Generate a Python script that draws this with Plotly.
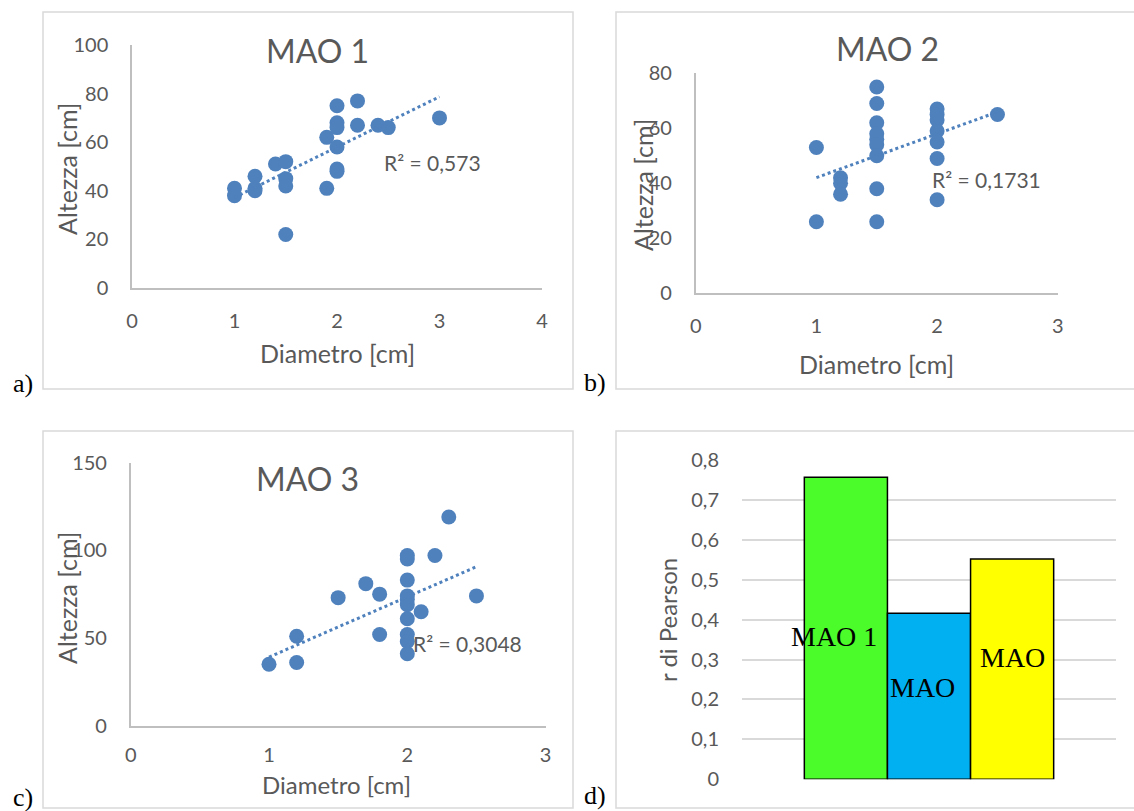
import numpy as np
import plotly.graph_objects as go

W, H = 1134, 811

# ---- data ----
mao1_diam = [1.0, 1.0, 1.2, 1.2, 1.2, 1.4, 1.5, 1.5, 1.5, 1.5, 1.9, 1.9, 2.0, 2.0, 2.0, 2.0, 2.0, 2.0, 2.2, 2.2, 2.4, 2.5, 3.0]
mao1_alt = [41, 38, 46, 41, 40, 51, 52, 45, 42, 22, 62, 41, 75, 68, 66, 58, 49, 48, 77, 67, 67, 66, 70]

mao2_diam = [1.0, 1.0, 1.2, 1.2, 1.2, 1.5, 1.5, 1.5, 1.5, 1.5, 1.5, 1.5, 1.5, 1.5, 2.0, 2.0, 2.0, 2.0, 2.0, 2.0, 2.0, 2.5]
mao2_alt = [53, 26, 42, 40, 36, 75, 69, 62, 58, 56, 54, 50, 38, 26, 67, 65, 63, 59, 55, 49, 34, 65]

mao3_diam = [1.0, 1.2, 1.2, 1.5, 1.7, 1.8, 1.8, 2.0, 2.0, 2.0, 2.0, 2.0, 2.0, 2.0, 2.0, 2.0, 2.0, 2.1, 2.2, 2.3, 2.5]
mao3_alt = [35, 51, 36, 73, 81, 75, 52, 97, 95, 83, 74, 72, 69, 61, 52, 48, 41, 65, 97, 119, 74]

r2_labels = ["R² = 0,573", "R² = 0,1731", "R² = 0,3048"]
titles = ["MAO 1", "MAO 2", "MAO 3"]

bar_names = ["MAO 1", "MAO", "MAO"]
pearson_r = [0.757, 0.416, 0.552]
bar_colors = ["#4cfc2a", "#00b0f0", "#ffff00"]
r_tickvals = [0, 0.1, 0.2, 0.3, 0.4, 0.5, 0.6, 0.7, 0.8]
r_ticktext = ["0", "0,1", "0,2", "0,3", "0,4", "0,5", "0,6", "0,7", "0,8"]

FONT = "Lato"
GRAY = "#595959"
BLUE = "#4f81bd"


def px(x):
    return x / W


def py(y):
    return 1 - y / H


fig = go.Figure()

scatter_sets = [(mao1_diam, mao1_alt), (mao2_diam, mao2_alt), (mao3_diam, mao3_alt)]
for i, (xs, ys) in enumerate(scatter_sets):
    ax = "" if i == 0 else str(i + 1)
    fig.add_trace(go.Scatter(x=xs, y=ys, mode="markers",
                             marker=dict(color=BLUE, size=15),
                             xaxis="x" + ax, yaxis="y" + ax, showlegend=False,
                             hoverinfo="skip", cliponaxis=False))
    xa = np.array(xs, dtype=float)
    ya = np.array(ys, dtype=float)
    m, b = np.polyfit(xa, ya, 1)
    xl = np.array([xa.min(), xa.max()])
    fig.add_trace(go.Scatter(x=xl, y=m * xl + b, mode="lines",
                             line=dict(color=BLUE, width=3, dash="dot"),
                             xaxis="x" + ax, yaxis="y" + ax, showlegend=False,
                             hoverinfo="skip"))

fig.add_trace(go.Bar(x=[0, 1, 2], y=pearson_r, width=1,
                     marker=dict(color=bar_colors, line=dict(color="black", width=1.5)),
                     xaxis="x4", yaxis="y4", showlegend=False, hoverinfo="skip"))

# panel geometry (pixels): x0, x1, y_bottom, y_top, ..., x ticklen
geo = [
    (132, 542, 288, 45, [0, 4], [0, 100], [0, 1, 2, 3, 4], [0, 20, 40, 60, 80, 100], 14),
    (695.7, 1057.8, 293.3, 73.3, [0, 3], [0, 80], [0, 1, 2, 3], [0, 20, 40, 60, 80], 14),
    (130.7, 545.6, 725.7, 462.6, [0, 3], [0, 150], [0, 1, 2, 3], [0, 50, 100, 150], 11),
]

tickfont = dict(family=FONT, size=20, color=GRAY)
layout = dict(width=W, height=H, margin=dict(l=0, r=0, t=0, b=0, autoexpand=False),
              paper_bgcolor="white", plot_bgcolor="white", showlegend=False,
              template="none")

for i, (x0, x1, yb, yt, xr, yr, xt, yt_, xtl) in enumerate(geo):
    ax = "" if i == 0 else str(i + 1)
    layout["xaxis" + ax] = dict(domain=[px(x0), px(x1)], range=xr, anchor="y" + ax,
                                showline=True, linecolor="#bfbfbf", linewidth=1.5,
                                showgrid=False, zeroline=False, tickvals=xt,
                                ticks="outside", ticklen=xtl, tickcolor="rgba(0,0,0,0)",
                                tickfont=tickfont, automargin=False)
    layout["yaxis" + ax] = dict(domain=[py(yb), py(yt)], range=yr, anchor="x" + ax,
                                showline=True, linecolor="#bfbfbf", linewidth=1.5,
                                showgrid=False, zeroline=False, tickvals=yt_,
                                ticks="outside", ticklen=18, tickcolor="rgba(0,0,0,0)",
                                tickfont=tickfont, automargin=False)

layout["xaxis4"] = dict(domain=[px(742), px(1116)], range=[-1.25, 3.25], anchor="y4",
                        showline=False, showgrid=False, zeroline=False, showticklabels=False,
                        automargin=False)
layout["yaxis4"] = dict(domain=[py(779.3), py(460)], range=[0, 0.8], anchor="x4",
                        showline=False, showgrid=True, gridcolor="#d9d9d9", gridwidth=1.5,
                        zeroline=False, tickvals=r_tickvals, ticktext=r_ticktext,
                        ticks="outside", ticklen=18, tickcolor="rgba(0,0,0,0)",
                        tickfont=tickfont, automargin=False)

fig.update_layout(**layout)

# panel frames
frames = [(43, 12, 573, 389), (616, 12, 1140, 389), (43, 431, 573, 808), (616, 431, 1140, 808)]
for (a, b_, c, d) in frames:
    fig.add_shape(type="rect", xref="paper", yref="paper",
                  x0=px(a), x1=px(c), y0=py(d), y1=py(b_),
                  line=dict(color="#d9d9d9", width=1.5), layer="below")


def ann(text, x, y, size, color=GRAY, family=FONT, angle=0):
    fig.add_annotation(text=text, x=px(x), y=py(y), xref="paper", yref="paper",
                       showarrow=False, xanchor="center", yanchor="middle",
                       textangle=angle, font=dict(family=family, size=size, color=color))


# titles
ann(titles[0], 317, 50, 32)
ann(titles[1], 887, 48, 32)
ann(titles[2], 307, 478, 32)
# axis titles
ann("Diametro [cm]", 337, 353, 25)
ann("Diametro [cm]", 876, 364, 25)
ann("Diametro [cm]", 336, 784, 24)
ann("Altezza [cm]", 67, 169, 25, angle=-90)
ann("Altezza [cm]", 643, 185, 25, angle=-90)
ann("Altezza [cm]", 67, 598, 25, angle=-90)
ann("r di Pearson", 667, 620, 24, angle=-90)
# R² labels
ann(r2_labels[0], 432, 162, 21)
ann(r2_labels[1], 986, 179, 21)
ann(r2_labels[2], 467, 643, 21)
# bar labels
ann(bar_names[0], 834, 636, 28, color="black", family="Liberation Serif")
ann(bar_names[1], 922, 687, 28, color="black", family="Liberation Serif")
ann(bar_names[2], 1012, 657, 28, color="black", family="Liberation Serif")
# panel letters
ann("a)", 23, 383, 26, color="black", family="Liberation Serif")
ann("b)", 595, 382, 26, color="black", family="Liberation Serif")
ann("c)", 23, 797, 26, color="black", family="Liberation Serif")
ann("d)", 595, 795, 26, color="black", family="Liberation Serif")

fig.write_html("out.html", config={"displayModeBar": False},
               post_script="document.body.style.margin='0';document.body.style.overflow='hidden';")
